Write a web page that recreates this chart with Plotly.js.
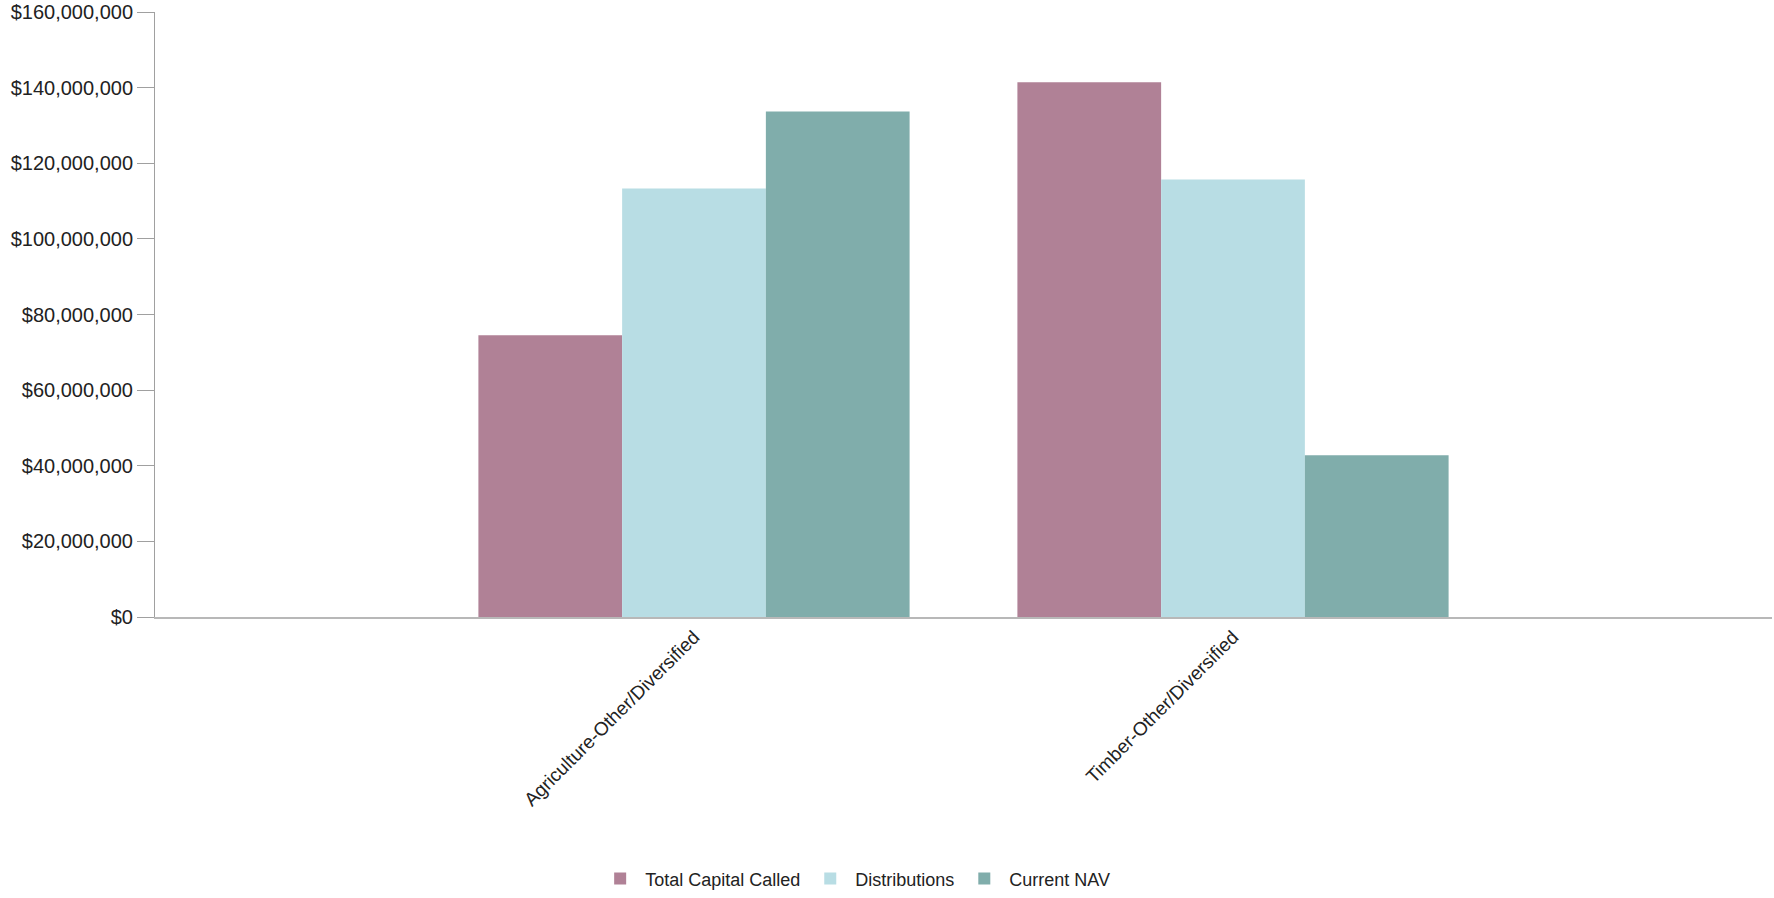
<!DOCTYPE html>
<html>
<head>
<meta charset="utf-8">
<script src="https://cdn.plot.ly/plotly-3.0.1.min.js"></script>
<style>html,body{margin:0;padding:0;background:#fff;}#chart{width:1774px;height:898px;}</style>
</head>
<body>
<div id="chart"></div>
<script>
const categories = ["Agriculture-Other/Diversified", "Timber-Other/Diversified"];
const seriesNames = ["Total Capital Called", "Distributions", "Current NAV"];
const totalCapitalCalled = [74500000, 141400000];
const distributions = [113300000, 115700000];
const currentNAV = [133700000, 42800000];
const seriesColors = ["#b08196", "#b8dde4", "#80adab"];
const yTickValues = [0, 20000000, 40000000, 60000000, 80000000, 100000000, 120000000, 140000000, 160000000];

const values = [totalCapitalCalled, distributions, currentNAV];
const traces = seriesNames.map((name, i) => ({
  type: "bar",
  name: name,
  x: categories,
  y: values[i],
  marker: {color: seriesColors[i], line: {width: 0}},
  hoverinfo: "x+y+name"
}));

const layout = {
  width: 1774,
  height: 898,
  margin: {l: 155, r: 2, t: 12, b: 280, pad: 0},
  paper_bgcolor: "#ffffff",
  plot_bgcolor: "#ffffff",
  font: {family: "Liberation Sans, Arial, sans-serif", size: 17, color: "#222"},
  barmode: "group",
  bargap: 0.2,
  bargroupgap: 0,
  showlegend: true,
  legend: {
    orientation: "h",
    x: 0.433,
    xanchor: "center",
    y: -0.461,
    yanchor: "bottom",
    font: {size: 18, color: "#222"},
    itemwidth: 40,
    traceorder: "normal"
  },
  xaxis: {
    type: "category",
    range: [-1, 2],
    tickangle: -45,
    ticks: "",
    showline: true,
    linecolor: "#b8b8b8",
    linewidth: 1.5,
    showgrid: false,
    zeroline: false,
    fixedrange: true,
    automargin: false,
    tickfont: {size: 19, color: "#222"}
  },
  yaxis: {
    range: [0, 160000000],
    tickvals: yTickValues,
    tickformat: "$,.0f",
    ticks: "outside",
    ticklen: 17,
    tickcolor: "#a0a0a0",
    tickwidth: 1,
    showline: true,
    linecolor: "#a0a0a0",
    linewidth: 1,
    showgrid: false,
    zeroline: false,
    fixedrange: true,
    automargin: false,
    tickfont: {size: 20, color: "#222"}
  }
};

Plotly.newPlot("chart", traces, layout, {displayModeBar: false, staticPlot: true});
</script>
</body>
</html>
